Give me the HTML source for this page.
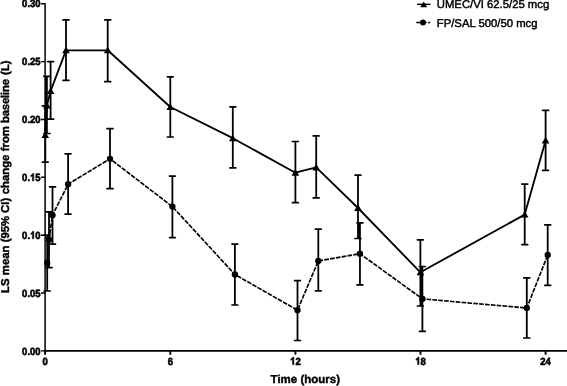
<!DOCTYPE html><html><head><meta charset="utf-8"><style>html,body{margin:0;padding:0;background:#fff}svg{display:block;will-change:transform}text{text-rendering:geometricPrecision}</style></head><body><svg width="567" height="386" viewBox="0 0 567 386"><rect width="567" height="386" fill="#fff"/><g stroke="#000" fill="none"><path d="M45.3 105.9V162.1" stroke-width="1.8"/><path d="M42.3 105.9H48.2M42.3 162.1H48.2" stroke-width="1.7" stroke-linecap="round"/><path d="M46.9 76.4V133.5" stroke-width="1.8"/><path d="M43.9 76.4H49.9M43.9 133.5H49.9" stroke-width="1.7" stroke-linecap="round"/><path d="M50.6 61.6V119.2" stroke-width="1.8"/><path d="M47.6 61.6H53.6M47.6 119.2H53.6" stroke-width="1.7" stroke-linecap="round"/><path d="M66.0 19.9V80.3" stroke-width="1.8"/><path d="M63.0 19.9H69.0M63.0 80.3H69.0" stroke-width="1.7" stroke-linecap="round"/><path d="M107.7 19.9V81.7" stroke-width="1.8"/><path d="M104.8 19.9H110.7M104.8 81.7H110.7" stroke-width="1.7" stroke-linecap="round"/><path d="M170.3 76.8V137" stroke-width="1.8"/><path d="M167.4 76.8H173.2M167.4 137H173.2" stroke-width="1.7" stroke-linecap="round"/><path d="M232.8 106.8V167.9" stroke-width="1.8"/><path d="M229.9 106.8H235.8M229.9 167.9H235.8" stroke-width="1.7" stroke-linecap="round"/><path d="M295.4 141.5V202.7" stroke-width="1.8"/><path d="M292.4 141.5H298.3M292.4 202.7H298.3" stroke-width="1.7" stroke-linecap="round"/><path d="M316.2 135.9V197.9" stroke-width="1.8"/><path d="M313.2 135.9H319.1M313.2 197.9H319.1" stroke-width="1.7" stroke-linecap="round"/><path d="M358.0 175.2V238.5" stroke-width="1.8"/><path d="M355.1 175.2H360.9M355.1 238.5H360.9" stroke-width="1.7" stroke-linecap="round"/><path d="M420.4 239.8V306" stroke-width="1.8"/><path d="M417.4 239.8H423.3M417.4 306H423.3" stroke-width="1.7" stroke-linecap="round"/><path d="M524.7 184.1V244.7" stroke-width="1.8"/><path d="M521.8 184.1H527.7M521.8 244.7H527.7" stroke-width="1.7" stroke-linecap="round"/><path d="M545.6 110.3V170.3" stroke-width="1.8"/><path d="M542.6 110.3H548.6M542.6 170.3H548.6" stroke-width="1.7" stroke-linecap="round"/><path d="M47.2 235V291" stroke-width="1.8"/><path d="M44.2 235H50.2M44.2 291H50.2" stroke-width="1.7" stroke-linecap="round"/><path d="M49.0 211.9V267.6" stroke-width="1.8"/><path d="M46.0 211.9H52.0M46.0 267.6H52.0" stroke-width="1.7" stroke-linecap="round"/><path d="M52.5 186.8V244.1" stroke-width="1.8"/><path d="M49.5 186.8H55.5M49.5 244.1H55.5" stroke-width="1.7" stroke-linecap="round"/><path d="M68.1 153.8V214.1" stroke-width="1.8"/><path d="M65.1 153.8H71.0M65.1 214.1H71.0" stroke-width="1.7" stroke-linecap="round"/><path d="M110.0 128.7V188.7" stroke-width="1.8"/><path d="M107.0 128.7H113.0M107.0 188.7H113.0" stroke-width="1.7" stroke-linecap="round"/><path d="M172.4 176.1V237.6" stroke-width="1.8"/><path d="M169.5 176.1H175.3M169.5 237.6H175.3" stroke-width="1.7" stroke-linecap="round"/><path d="M234.9 244.1V305" stroke-width="1.8"/><path d="M232.0 244.1H237.8M232.0 305H237.8" stroke-width="1.7" stroke-linecap="round"/><path d="M297.5 280.7V340.5" stroke-width="1.8"/><path d="M294.6 280.7H300.4M294.6 340.5H300.4" stroke-width="1.7" stroke-linecap="round"/><path d="M318.3 229.2V290.8" stroke-width="1.8"/><path d="M315.4 229.2H321.2M315.4 290.8H321.2" stroke-width="1.7" stroke-linecap="round"/><path d="M359.95 222.8V284.8" stroke-width="1.8"/><path d="M357.0 222.8H362.9M357.0 284.8H362.9" stroke-width="1.7" stroke-linecap="round"/><path d="M422.4 266.5V331.3" stroke-width="1.8"/><path d="M419.4 266.5H425.3M419.4 331.3H425.3" stroke-width="1.7" stroke-linecap="round"/><path d="M526.8 277.9V338" stroke-width="1.8"/><path d="M523.8 277.9H529.8M523.8 338H529.8" stroke-width="1.7" stroke-linecap="round"/><path d="M547.7 224.9V285.3" stroke-width="1.8"/><path d="M544.8 224.9H550.7M544.8 285.3H550.7" stroke-width="1.7" stroke-linecap="round"/><path d="M45.3 135.0 L46.9 105.5 L50.6 91.0 L66.0 50.3 L107.7 50.3 L170.3 107 L232.8 138.2 L295.4 172.7 L316.2 167.4 L358.0 208 L420.4 272.3 L524.7 214.6 L545.6 140.6" stroke-width="1.85" stroke-linejoin="round"/><path d="M47.2 263 L49.0 239.7 L52.5 215.2 L68.1 184.2 L110.0 158.8 L172.4 206.6 L234.9 274.5 L297.5 310.2 L318.3 260.9 L359.95 253.7 L422.4 298.9 L526.8 308 L547.7 255" stroke-width="1.65" stroke-dasharray="4.65 1.22" stroke-linejoin="round"/></g><g fill="#000"><rect x="358" y="222.8" width="1.95" height="15.7"/><rect x="420.4" y="266.5" width="2" height="39.5"/><rect x="45.1" y="76.4" width="1.8" height="57.1"/><path d="M45.3 131.2L49.1 138.0H41.5Z"/><path d="M46.9 101.7L50.7 108.5H43.1Z"/><path d="M50.6 87.2L54.4 94.0H46.8Z"/><path d="M66.0 46.5L69.8 53.3H62.2Z"/><path d="M107.7 46.5L111.5 53.3H103.9Z"/><path d="M170.3 103.2L174.1 110.0H166.5Z"/><path d="M232.8 134.4L236.6 141.2H229.0Z"/><path d="M295.4 168.9L299.2 175.7H291.6Z"/><path d="M316.2 163.6L320.0 170.4H312.4Z"/><path d="M358.0 204.2L361.8 211.0H354.2Z"/><path d="M420.4 268.5L424.2 275.3H416.6Z"/><path d="M524.7 210.8L528.5 217.6H520.9Z"/><path d="M545.6 136.8L549.4 143.6H541.8Z"/><circle cx="47.2" cy="263" r="3.15"/><circle cx="49.0" cy="239.7" r="3.15"/><circle cx="52.5" cy="215.2" r="3.15"/><circle cx="68.1" cy="184.2" r="3.15"/><circle cx="110.0" cy="158.8" r="3.15"/><circle cx="172.4" cy="206.6" r="3.15"/><circle cx="234.9" cy="274.5" r="3.15"/><circle cx="297.5" cy="310.2" r="3.15"/><circle cx="318.3" cy="260.9" r="3.15"/><circle cx="359.95" cy="253.7" r="3.15"/><circle cx="422.4" cy="298.9" r="3.15"/><circle cx="526.8" cy="308" r="3.15"/><circle cx="547.7" cy="255" r="3.15"/></g><g stroke="#000" fill="none"><path d="M45.1 3.1V351.79999999999995" stroke-width="1.5"/><path d="M44.4 350.9H567" stroke-width="1.9"/><path d="M41 350.9H45.1M41 293.0H45.1M41 235.2H45.1M41 177.3H45.1M41 119.5H45.1M41 61.6H45.1M41 3.8H45.1" stroke-width="1.4"/><path d="M45.1 350.9V354.8M170.3 350.9V354.8M295.4 350.9V354.8M420.5 350.9V354.8M545.6 350.9V354.8" stroke-width="1.9"/></g><g font-family="Liberation Sans, sans-serif" font-weight="bold" font-size="9.5px" fill="#000" stroke="#000" stroke-width="0.55"><g transform="translate(22.11 354.50) scale(1 1.1)"><text x="0.00" y="0">0</text><text x="5.28" y="0">.</text><text x="7.92" y="0">0</text><text x="13.21" y="0">0</text></g><g transform="translate(22.11 296.65) scale(1 1.1)"><text x="0.00" y="0">0</text><text x="5.28" y="0">.</text><text x="7.92" y="0">0</text><text x="13.21" y="0">5</text></g><g transform="translate(22.11 238.80) scale(1 1.1)"><text x="0.00" y="0">0</text><text x="5.28" y="0">.</text><path transform="translate(7.92 0) scale(0.004639 -0.004639)" d="M806 0H525V1059Q371 915 162 846V1101Q272 1137 401 1237.5T578 1472H806Z" stroke-width="118.6"/><text x="13.21" y="0">0</text></g><g transform="translate(22.11 180.95) scale(1 1.1)"><text x="0.00" y="0">0</text><text x="5.28" y="0">.</text><path transform="translate(7.92 0) scale(0.004639 -0.004639)" d="M806 0H525V1059Q371 915 162 846V1101Q272 1137 401 1237.5T578 1472H806Z" stroke-width="118.6"/><text x="13.21" y="0">5</text></g><g transform="translate(22.11 123.10) scale(1 1.1)"><text x="0.00" y="0">0</text><text x="5.28" y="0">.</text><text x="7.92" y="0">2</text><text x="13.21" y="0">0</text></g><g transform="translate(22.11 65.25) scale(1 1.1)"><text x="0.00" y="0">0</text><text x="5.28" y="0">.</text><text x="7.92" y="0">2</text><text x="13.21" y="0">5</text></g><g transform="translate(22.11 7.40) scale(1 1.1)"><text x="0.00" y="0">0</text><text x="5.28" y="0">.</text><text x="7.92" y="0">3</text><text x="13.21" y="0">0</text></g><g transform="translate(42.46 364.60) scale(1 1.1)"><text x="0.00" y="0">0</text></g><g transform="translate(167.66 364.60) scale(1 1.1)"><text x="0.00" y="0">6</text></g><g transform="translate(290.12 364.60) scale(1 1.1)"><path transform="translate(0.00 0) scale(0.004639 -0.004639)" d="M806 0H525V1059Q371 915 162 846V1101Q272 1137 401 1237.5T578 1472H806Z" stroke-width="118.6"/><text x="5.28" y="0">2</text></g><g transform="translate(415.22 364.60) scale(1 1.1)"><path transform="translate(0.00 0) scale(0.004639 -0.004639)" d="M806 0H525V1059Q371 915 162 846V1101Q272 1137 401 1237.5T578 1472H806Z" stroke-width="118.6"/><text x="5.28" y="0">8</text></g><g transform="translate(540.32 364.60) scale(1 1.1)"><text x="0.00" y="0">2</text><text x="5.28" y="0">4</text></g></g><text x="305.3" y="382.8" text-anchor="middle" font-family="Liberation Sans, sans-serif" font-weight="bold" font-size="11.5px" stroke="#000" stroke-width="0.4">Time (hours)</text><text transform="translate(9.4 176.75) rotate(-90)" font-family="Liberation Sans, sans-serif" font-weight="bold" font-size="11.365px" stroke="#000" stroke-width="0.4"><tspan x="-116.20">LS </tspan><tspan x="-98.40">mean </tspan><tspan x="-65.60">(95% </tspan><tspan x="-36.20">CI) </tspan><tspan x="-17.60">change </tspan><tspan x="25.44">from </tspan><tspan x="53.74" letter-spacing="-0.19">baseline </tspan><tspan x="101.87">(L)</tspan></text><g font-family="Liberation Sans, sans-serif" font-size="11.3px" fill="#000" stroke="#000" stroke-width="0.45"><text x="436.8" y="7.7">UMEC/VI 62.5/25 mcg</text><text x="436.8" y="26.8">FP/SAL 500/50 mcg</text></g><path d="M417.1 4.3H430.5" stroke="#000" stroke-width="1.4"/><path d="M423.7 1.4L427.2 7.3H420.2Z" fill="#000"/><path d="M416.3 22.6H430.2" stroke="#000" stroke-width="1.5" stroke-dasharray="4.4 1.5"/><circle cx="423" cy="22.6" r="3" fill="#000"/></svg></body></html>
